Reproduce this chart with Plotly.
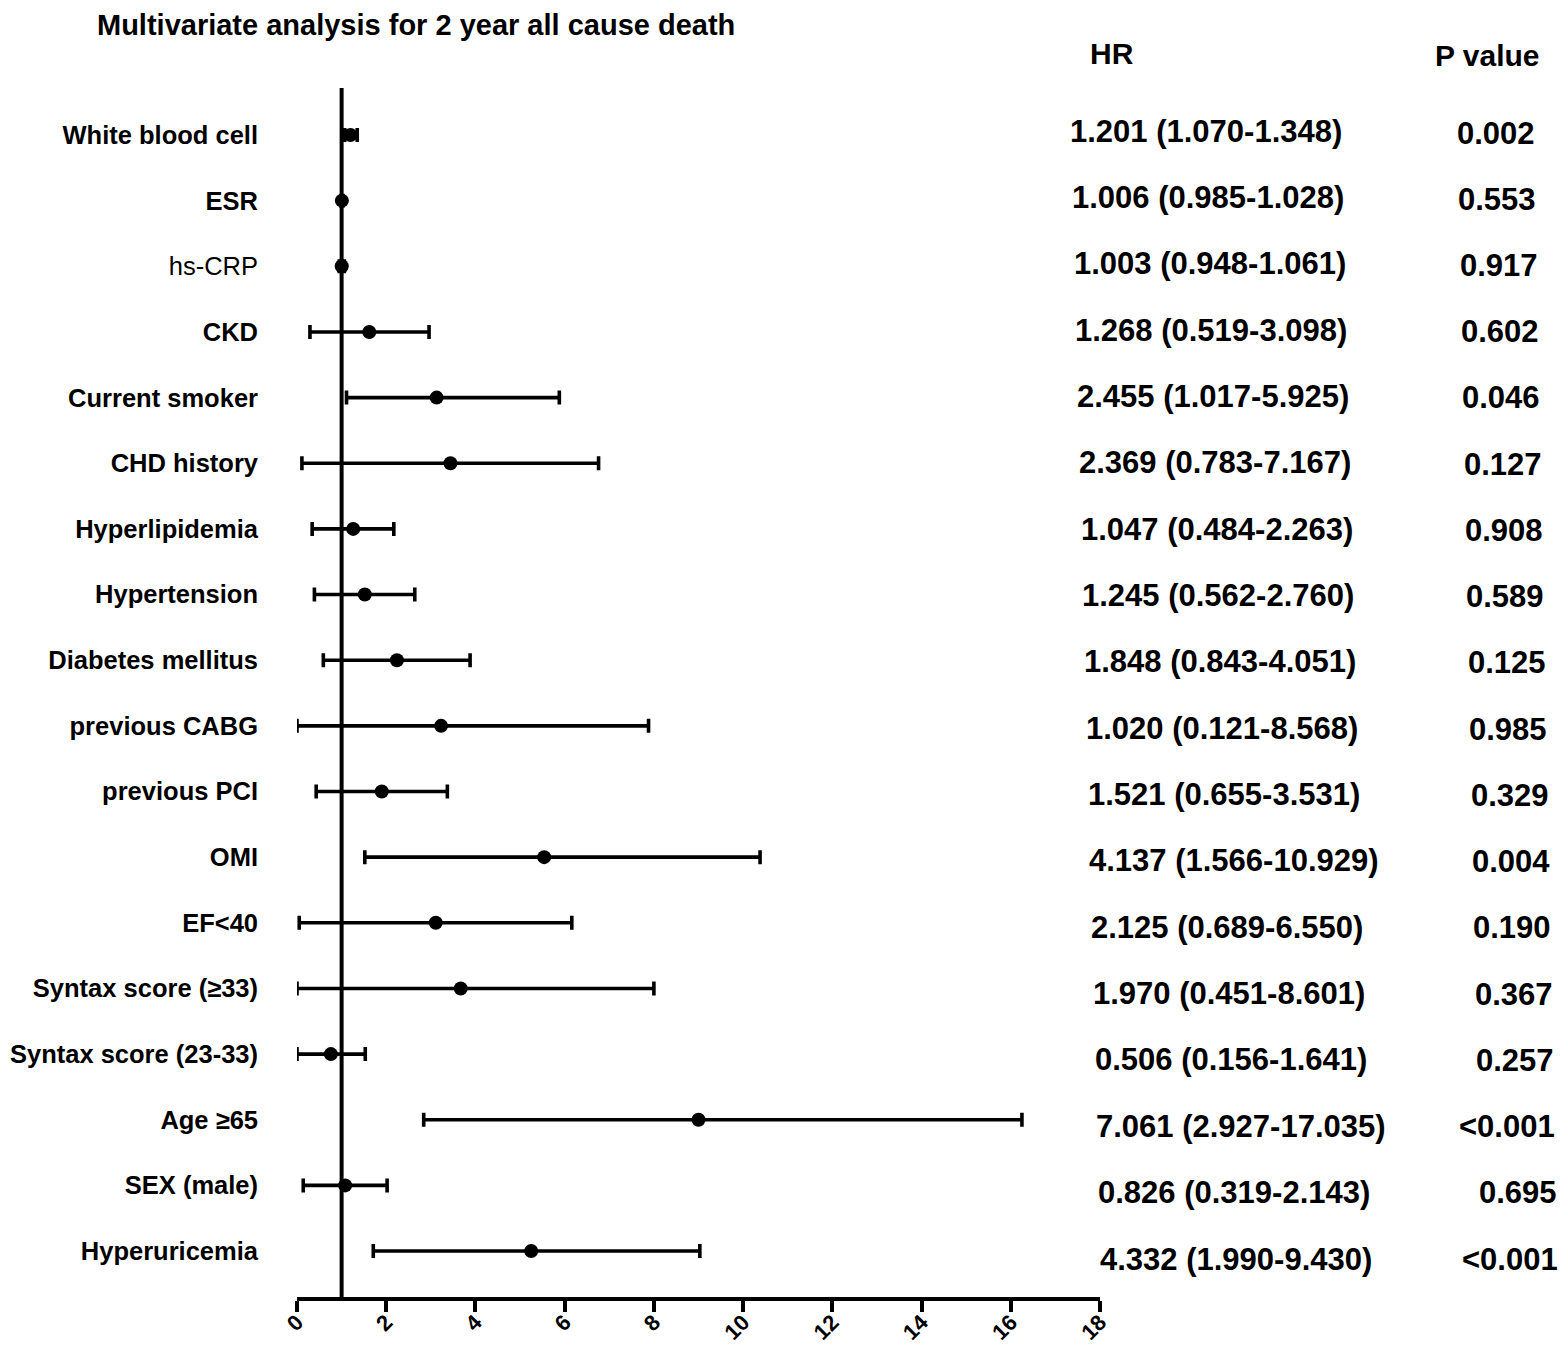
import plotly.graph_objects as go

# ---------------- data ----------------
labels = ["White blood cell", "ESR", "hs-CRP", "CKD", "Current smoker", "CHD history",
          "Hyperlipidemia", "Hypertension", "Diabetes mellitus", "previous CABG",
          "previous PCI", "OMI", "EF<40", "Syntax score (≥33)", "Syntax score (23-33)",
          "Age ≥65", "SEX (male)", "Hyperuricemia"]
bold_label = [True, True, False] + [True] * 15

# point estimates and interval ends as drawn in the plot
point = [1.20, 1.006, 1.003, 1.62, 3.13, 3.44, 1.26, 1.52, 2.24, 3.23, 1.90, 5.54,
         3.11, 3.67, 0.76, 9.00, 1.08, 5.25]
low = [1.07, 0.985, 0.948, 0.29, 1.11, 0.11, 0.34, 0.39, 0.59, 0.00, 0.43, 1.52,
       0.05, 0.00, 0.00, 2.84, 0.14, 1.71]
high = [1.35, 1.028, 1.061, 2.96, 5.88, 6.76, 2.17, 2.64, 3.88, 7.88, 3.37, 10.38,
        6.16, 8.00, 1.53, 16.25, 2.02, 9.03]

hr_text = ["1.201 (1.070-1.348)", "1.006 (0.985-1.028)", "1.003 (0.948-1.061)",
           "1.268 (0.519-3.098)", "2.455 (1.017-5.925)", "2.369 (0.783-7.167)",
           "1.047 (0.484-2.263)", "1.245 (0.562-2.760)", "1.848 (0.843-4.051)",
           "1.020 (0.121-8.568)", "1.521 (0.655-3.531)", "4.137 (1.566-10.929)",
           "2.125 (0.689-6.550)", "1.970 (0.451-8.601)", "0.506 (0.156-1.641)",
           "7.061 (2.927-17.035)", "0.826 (0.319-2.143)", "4.332 (1.990-9.430)"]
p_text = ["0.002", "0.553", "0.917", "0.602", "0.046", "0.127", "0.908", "0.589",
          "0.125", "0.985", "0.329", "0.004", "0.190", "0.367", "0.257", "<0.001",
          "0.695", "<0.001"]

x_ticks = [0, 2, 4, 6, 8, 10, 12, 14, 16, 18]
title_text = "Multivariate analysis for 2 year all cause death"

# ---------------- layout geometry ----------------
OFF = 8                    # page body margin
W, H = 1566 - 2 * OFF, 1355 - 2 * OFF
L, R = 297 - OFF, 1100 - OFF   # plot area in px (figure coords)
T, B = 88 - OFF, 1297 - OFF
FONT = "Liberation Sans, Arial, Helvetica, sans-serif"

def px_to_paper_x(px):
    return (px - OFF - L) / (R - L)

def px_to_paper_y(py):
    return (B - (py - OFF)) / (B - T)

n = len(labels)
rows = list(range(n))

fig = go.Figure()
fig.add_trace(go.Scatter(
    x=point, y=rows, mode="markers",
    marker=dict(color="black", size=14, symbol="circle"),
    error_x=dict(type="data", symmetric=False,
                 array=[h - p for h, p in zip(high, point)],
                 arrayminus=[p - l for p, l in zip(point, low)],
                 color="black", thickness=3.6, width=7),
    cliponaxis=False, showlegend=False, hoverinfo="skip",
))

# reference line at HR = 1
fig.add_shape(type="line", xref="x", yref="paper", x0=1, x1=1, y0=0, y1=1,
              line=dict(color="black", width=4), layer="below")

ticktext = [f"<b>{t}</b>" if b else t for t, b in zip(labels, bold_label)]

annotations = []
annotations.append(dict(text="<b>" + title_text + "</b>", xref="paper", yref="paper",
                        x=px_to_paper_x(96), y=px_to_paper_y(OFF), xanchor="left", yanchor="top",
                        borderpad=0,
                        showarrow=False, font=dict(family=FONT, size=29, color="black")))
annotations.append(dict(text="<b>HR</b>", xref="paper", yref="paper",
                        x=px_to_paper_x(1112), y=px_to_paper_y(53), xanchor="center", yanchor="middle",
                        showarrow=False, font=dict(family=FONT, size=30, color="black")))
annotations.append(dict(text="<b>P value</b>", xref="paper", yref="paper",
                        x=px_to_paper_x(1487), y=px_to_paper_y(55), xanchor="center", yanchor="middle",
                        showarrow=False, font=dict(family=FONT, size=30, color="black")))
for i in rows:
    drift = i / (n - 1)
    annotations.append(dict(text="<b>" + hr_text[i] + "</b>", xref="paper", yref="y",
                            x=px_to_paper_x(1068 + 30 * drift), y=i, xanchor="left", yanchor="middle",
                            yshift=4 - 12 * drift,
                            showarrow=False, font=dict(family=FONT, size=31, color="black")))
    annotations.append(dict(text="<b>" + p_text[i] + "</b>", xref="paper", yref="y",
                            x=px_to_paper_x(1537 + 23 * drift), y=i, xanchor="right", yanchor="middle",
                            yshift=2 - 10 * drift,
                            showarrow=False, font=dict(family=FONT, size=31, color="black")))

fig.update_layout(
    width=W, height=H,
    margin=dict(l=L, r=W - R, t=T, b=H - B, autoexpand=False),
    paper_bgcolor="white", plot_bgcolor="white",
    font=dict(family=FONT, color="black"),
    xaxis=dict(range=[0, 18], tickvals=x_ticks, ticktext=[f"<b>{v}</b>" for v in x_ticks],
               showgrid=False, zeroline=False, showline=True, linecolor="black", linewidth=3.5,
               ticks="outside", ticklen=11, tickwidth=3.5, tickcolor="black",
               tickangle=-45, ticklabelstandoff=-11,
               tickfont=dict(family=FONT, size=22, color="black"),
               automargin=False),
    yaxis=dict(range=[n - 1 + 0.70, -0.716], tickvals=rows, ticktext=ticktext,
               showgrid=False, zeroline=False, showline=False, ticks="",
               ticklabelstandoff=38,
               tickfont=dict(family=FONT, size=25.5, color="black"), automargin=False),
    annotations=annotations,
)

fig.write_html("out.html")
